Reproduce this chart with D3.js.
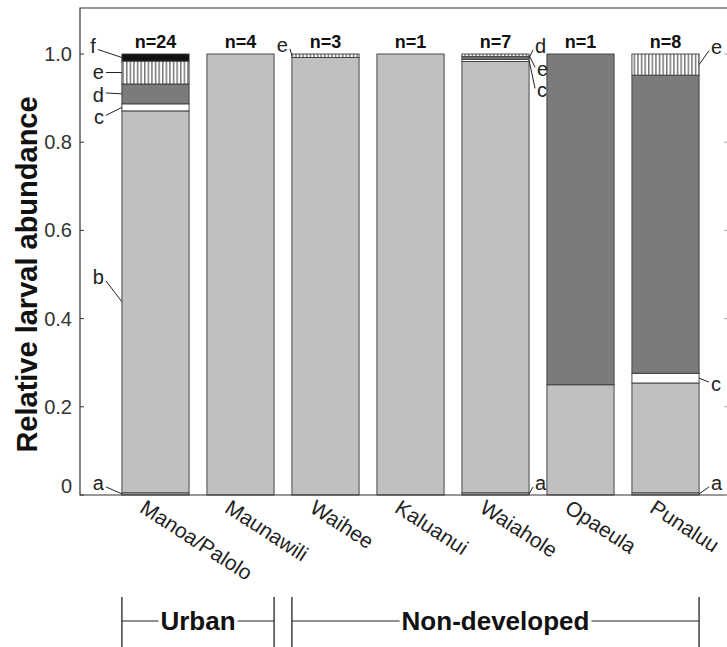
<!DOCTYPE html>
<html>
<head>
<meta charset="utf-8">
<script src="https://cdn.jsdelivr.net/npm/d3@7"></script>
<style>
  body { margin: 0; background: #fff; }
  svg { font-family: "Liberation Sans", Arial, sans-serif; }
</style>
</head>
<body>
<div id="chart"></div>
<script>
// sites and sample sizes
const sites = ['Manoa/Palolo', 'Maunawili', 'Waihee', 'Kaluanui', 'Waiahole', 'Opaeula', 'Punaluu'];
const sampleN = [24, 4, 3, 1, 7, 1, 8];
const landUse = [
  { name: 'Urban', from: 'Manoa/Palolo', to: 'Maunawili' },
  { name: 'Non-developed', from: 'Waihee', to: 'Punaluu' },
];

// relative abundance of each larval taxon, per site
const taxa = ['a', 'b', 'c', 'd', 'e', 'f'];
const taxonA = [0.005, 0, 0, 0, 0.005, 0, 0.005];
const taxonB = [0.866, 1, 0.992, 1, 0.978, 0.25, 0.249];
const taxonC = [0.016, 0, 0, 0, 0.005, 0, 0.022];
const taxonD = [0.045, 0, 0, 0, 0.006, 0.75, 0.676];
const taxonE = [0.052, 0, 0.008, 0, 0.006, 0, 0.048];
const taxonF = [0.016, 0, 0, 0, 0, 0, 0];

const yTicks = [0, 0.2, 0.4, 0.6, 0.8, 1.0];

// which segments get a letter label (site, taxon, side, text offset)
const notes = [
  { site: 'Manoa/Palolo', taxon: 'f', side: 'left', dx: -30, dy: -11 },
  { site: 'Manoa/Palolo', taxon: 'e', side: 'left', dx: -22, dy: 0 },
  { site: 'Manoa/Palolo', taxon: 'd', side: 'left', dx: -22, dy: 2 },
  { site: 'Manoa/Palolo', taxon: 'c', side: 'left', dx: -22, dy: 11 },
  { site: 'Manoa/Palolo', taxon: 'b', side: 'left', dx: -22, dy: -24 },
  { site: 'Manoa/Palolo', taxon: 'a', side: 'left', dx: -22, dy: -10 },
  { site: 'Waihee', taxon: 'e', side: 'left', dx: -8, dy: -10 },
  { site: 'Waiahole', taxon: 'd', side: 'right', dx: 10, dy: -11 },
  { site: 'Waiahole', taxon: 'e', side: 'right', dx: 12, dy: 15 },
  { site: 'Waiahole', taxon: 'c', side: 'right', dx: 12, dy: 31 },
  { site: 'Waiahole', taxon: 'a', side: 'right', dx: 10, dy: -10 },
  { site: 'Punaluu', taxon: 'e', side: 'right', dx: 16, dy: -17 },
  { site: 'Punaluu', taxon: 'c', side: 'right', dx: 16, dy: 7 },
  { site: 'Punaluu', taxon: 'a', side: 'right', dx: 16, dy: -10 },
];

const width = 727;
const height = 647;
const plot = { left: 80, right: 728, top: 8, bottom: 495 };

const fills = { a: '#c0c0c0', b: '#c0c0c0', c: '#ffffff', d: '#7b7b7b', e: 'url(#hatch)', f: '#111111' };

const svg = d3
  .select('#chart')
  .append('svg')
  .attr('width', width)
  .attr('height', height);

// vertical hatching for taxon e
const pat = svg
  .append('defs')
  .append('pattern')
  .attr('id', 'hatch')
  .attr('patternUnits', 'userSpaceOnUse')
  .attr('width', 3.6)
  .attr('height', 10);
pat.append('rect').attr('width', 3.6).attr('height', 10).attr('fill', '#fff');
pat.append('line').attr('x1', 0.8).attr('x2', 0.8).attr('y1', 0).attr('y2', 10)
  .attr('stroke', '#333').attr('stroke-width', 1);

const rows = sites.map((s, i) => ({
  site: s,
  a: taxonA[i], b: taxonB[i], c: taxonC[i], d: taxonD[i], e: taxonE[i], f: taxonF[i],
}));
const series = d3.stack().keys(taxa)(rows);

const x = d3
  .scaleBand()
  .domain(sites)
  .range([113, 708])
  .paddingInner(0.21)
  .paddingOuter(0.105);

const y = d3.scaleLinear().domain([0, 1]).range([495, 54]);

// bars
series.forEach((s) => {
  svg
    .append('g')
    .selectAll('rect')
    .data(s.filter((d) => d[1] - d[0] > 0))
    .enter()
    .append('rect')
    .attr('x', (d) => x(d.data.site))
    .attr('width', x.bandwidth())
    .attr('y', (d) => y(d[1]))
    .attr('height', (d) => y(d[0]) - y(d[1]))
    .attr('fill', fills[s.key])
    .attr('stroke', '#3a3a3a')
    .attr('stroke-width', 0.9);
});

// frame
svg.append('path')
  .attr('d', `M${plot.right},${plot.top}H${plot.left}V${plot.bottom}H${plot.right}`)
  .attr('fill', 'none')
  .attr('stroke', '#333')
  .attr('stroke-width', 1.2);

// y axis ticks (inward) and labels
const yAxis = svg.append('g');
yTicks.forEach((t) => {
  yAxis.append('line')
    .attr('x1', plot.left).attr('x2', plot.left + 4)
    .attr('y1', y(t)).attr('y2', y(t))
    .attr('stroke', '#333');
  yAxis.append('line')
    .attr('x1', plot.right - 4).attr('x2', plot.right)
    .attr('y1', y(t)).attr('y2', y(t))
    .attr('stroke', '#aaa');
  yAxis.append('text')
    .attr('x', 72)
    .attr('y', t === 0 ? y(t) - 9 : y(t))
    .attr('dy', '0.35em')
    .attr('text-anchor', 'end')
    .attr('font-size', 20)
    .attr('fill', '#333')
    .text(t === 0 ? '0' : d3.format('.1f')(t));
});

svg.append('text')
  .attr('transform', `translate(27,${(y(0) + y(1)) / 2}) rotate(-90)`)
  .attr('text-anchor', 'middle')
  .attr('dy', '0.35em')
  .attr('font-size', 29)
  .attr('font-weight', 'bold')
  .attr('fill', '#111')
  .text('Relative larval abundance');

// sample sizes
svg.append('g')
  .selectAll('text')
  .data(sites)
  .enter()
  .append('text')
  .attr('x', (d) => x(d) + x.bandwidth() / 2)
  .attr('y', 48)
  .attr('text-anchor', 'middle')
  .attr('font-size', 18)
  .attr('font-weight', 'bold')
  .attr('fill', '#111')
  .text((d, i) => `n=${sampleN[i]}`);

// site names, slanted
svg.append('g')
  .selectAll('text')
  .data(sites)
  .enter()
  .append('text')
  .attr('transform', (d) => `translate(${x(d) + x.bandwidth() / 2 - 13},${505}) rotate(33)`)
  .attr('text-anchor', 'start')
  .attr('dy', '0.35em')
  .attr('font-size', 21)
  .attr('fill', '#222')
  .text((d) => d);

// segment letters with leader lines
const lookup = {};
series.forEach((s) => {
  s.forEach((d) => { lookup[d.data.site + '|' + s.key] = d; });
});
notes.forEach((n) => {
  const seg = lookup[n.site + '|' + n.taxon];
  const ax = n.side === 'left' ? x(n.site) : x(n.site) + x.bandwidth();
  const ay = y((seg[0] + seg[1]) / 2);
  const tx = ax + n.dx;
  const ty = ay + n.dy;
  const sx = tx + (n.side === 'left' ? 6 : -6);
  svg.append('line')
    .attr('x1', sx).attr('y1', ty + (n.dy === 0 ? 0 : (n.dy < 0 ? 3 : -3)))
    .attr('x2', ax).attr('y2', ay)
    .attr('stroke', '#222')
    .attr('stroke-width', 1);
  svg.append('text')
    .attr('x', tx)
    .attr('y', ty)
    .attr('dy', '0.3em')
    .attr('text-anchor', n.side === 'left' ? 'end' : 'start')
    .attr('dx', n.side === 'left' ? 4 : -4)
    .attr('font-size', 20)
    .attr('fill', '#222')
    .text(n.taxon);
});

// land-use brackets
landUse.forEach((g) => {
  const x0 = x(g.from);
  const x1 = x(g.to) + x.bandwidth();
  const cx = (x0 + x1) / 2;
  const by = 621;
  const grp = svg.append('g');
  grp.append('line').attr('x1', x0).attr('x2', x0).attr('y1', 597).attr('y2', 647).attr('stroke', '#222').attr('stroke-width', 1.3);
  grp.append('line').attr('x1', x1).attr('x2', x1).attr('y1', 597).attr('y2', 647).attr('stroke', '#222').attr('stroke-width', 1.3);
  const label = grp.append('text')
    .attr('x', cx).attr('y', by).attr('dy', '0.35em')
    .attr('text-anchor', 'middle')
    .attr('font-size', 26)
    .attr('font-weight', 'bold')
    .attr('fill', '#111')
    .text(g.name);
  const w = label.node().getComputedTextLength();
  grp.append('line').attr('x1', x0).attr('x2', cx - w / 2 - 2).attr('y1', by).attr('y2', by).attr('stroke', '#222');
  grp.append('line').attr('x1', cx + w / 2 + 2).attr('x2', x1).attr('y1', by).attr('y2', by).attr('stroke', '#222');
});
</script>
</body>
</html>
